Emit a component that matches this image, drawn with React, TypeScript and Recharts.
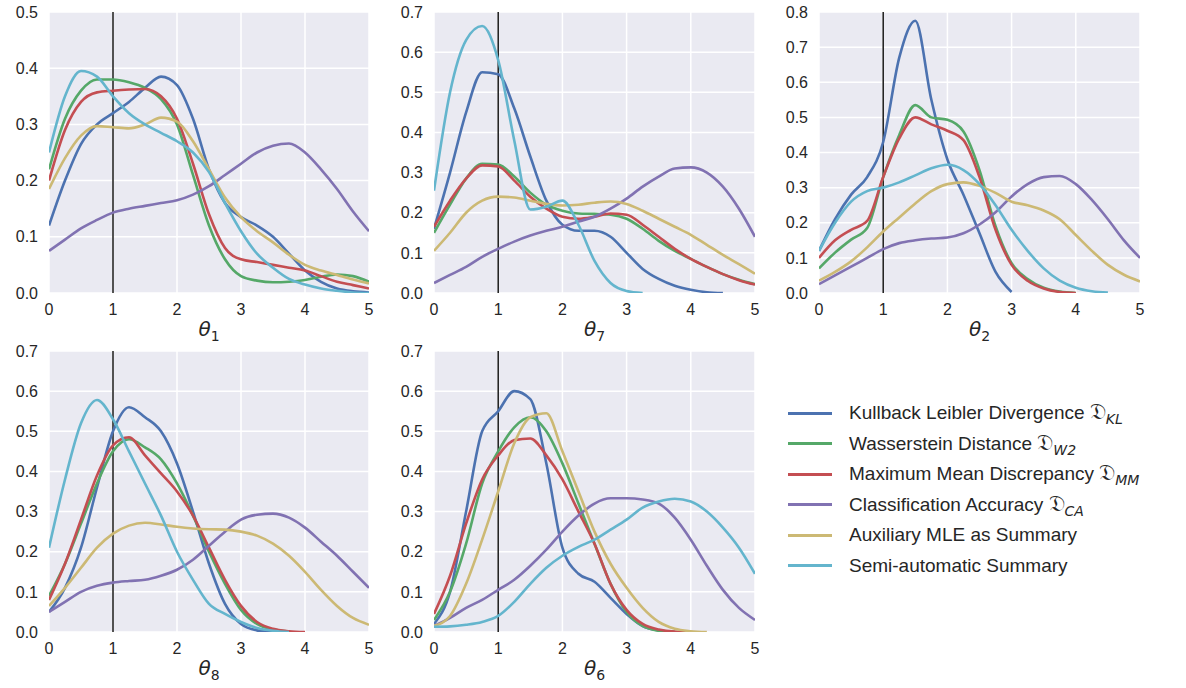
import React from 'react';
import { CartesianGrid, Line, LineChart, ReferenceLine, XAxis, YAxis } from 'recharts';

// shared grid of theta values (x axis)
const xGrid = [0, 0.25, 0.5, 0.75, 1, 1.25, 1.5, 1.75, 2, 2.25, 2.5, 2.75, 3, 3.25, 3.5, 3.75, 4, 4.25, 4.5, 4.75, 5];
const xTicks = [0, 1, 2, 3, 4, 5];

const methodNames = [
  'Kullback Leibler Divergence',
  'Wasserstein Distance',
  'Maximum Mean Discrepancy',
  'Classification Accuracy',
  'Auxiliary MLE as Summary',
  'Semi-automatic Summary',
];
const methodSubs = ['KL', 'W2', 'MM', 'CA', '', ''];
const methodColors = ['#4C72B0', '#55A868', '#C44E52', '#8172B2', '#CCB974', '#64B5CD'];

// theta_1
const t1KL = [0.12, 0.2, 0.265, 0.3, 0.32, 0.34, 0.365, 0.385, 0.37, 0.31, 0.22, 0.16, 0.135, 0.12, 0.1, 0.07, 0.04, 0.02, 0.008, 0.003, 0.001];
const t1W2 = [0.22, 0.31, 0.36, 0.38, 0.38, 0.375, 0.365, 0.345, 0.3, 0.21, 0.12, 0.06, 0.03, 0.022, 0.019, 0.02, 0.023, 0.029, 0.033, 0.03, 0.02];
const t1MM = [0.2, 0.29, 0.34, 0.357, 0.36, 0.362, 0.363, 0.35, 0.31, 0.23, 0.14, 0.08, 0.06, 0.055, 0.05, 0.045, 0.04, 0.03, 0.02, 0.014, 0.008];
const t1CA = [0.075, 0.095, 0.115, 0.13, 0.143, 0.15, 0.155, 0.16, 0.165, 0.175, 0.19, 0.21, 0.23, 0.25, 0.262, 0.266, 0.25, 0.22, 0.185, 0.145, 0.11];
const t1MLE = [0.185, 0.24, 0.28, 0.297, 0.295, 0.293, 0.3, 0.312, 0.305, 0.27, 0.22, 0.17, 0.135, 0.11, 0.09, 0.068, 0.05, 0.04, 0.032, 0.024, 0.017];
const t1Semi = [0.25, 0.35, 0.395, 0.385, 0.35, 0.32, 0.3, 0.285, 0.27, 0.25, 0.215, 0.16, 0.11, 0.07, 0.045, 0.025, 0.015, 0.008, 0.004, 0.001, 0.0];

// theta_7
const t7KL = [0.16, 0.3, 0.45, 0.55, 0.545, 0.46, 0.34, 0.23, 0.17, 0.155, 0.155, 0.14, 0.1, 0.06, 0.035, 0.018, 0.008, 0.002, 0.0, null, null];
const t7W2 = [0.15, 0.22, 0.285, 0.322, 0.32, 0.29, 0.25, 0.22, 0.205, 0.198, 0.197, 0.195, 0.185, 0.16, 0.13, 0.105, 0.085, 0.065, 0.047, 0.033, 0.022];
const t7MM = [0.165, 0.23, 0.285, 0.318, 0.315, 0.28, 0.24, 0.21, 0.19, 0.185, 0.19, 0.198, 0.195, 0.17, 0.14, 0.11, 0.085, 0.065, 0.047, 0.032, 0.021];
const t7CA = [0.025, 0.045, 0.065, 0.09, 0.11, 0.128, 0.143, 0.155, 0.165, 0.178, 0.19, 0.21, 0.235, 0.265, 0.29, 0.31, 0.313, 0.3, 0.265, 0.21, 0.14];
const t7MLE = [0.105, 0.15, 0.2, 0.23, 0.24, 0.238, 0.23, 0.222, 0.218, 0.22, 0.225, 0.228, 0.222, 0.205, 0.185, 0.165, 0.145, 0.12, 0.095, 0.072, 0.048];
const t7Semi = [0.255, 0.5, 0.63, 0.665, 0.58, 0.38, 0.208, 0.215, 0.23, 0.17, 0.08, 0.025, 0.005, 0.0, null, null, null, null, null, null, null];

// theta_2
const t2KL = [0.12, 0.21, 0.28, 0.33, 0.43, 0.67, 0.775, 0.55, 0.38, 0.28, 0.17, 0.06, 0.003, null, null, null, null, null, null, null, null];
const t2W2 = [0.07, 0.115, 0.152, 0.185, 0.33, 0.45, 0.535, 0.5, 0.493, 0.46, 0.35, 0.19, 0.085, 0.04, 0.015, 0.004, 0.0, null, null, null, null];
const t2MM = [0.1, 0.15, 0.18, 0.205, 0.33, 0.44, 0.5, 0.48, 0.462, 0.435, 0.33, 0.18, 0.08, 0.035, 0.013, 0.003, 0.0, null, null, null, null];
const t2CA = [0.025, 0.05, 0.075, 0.1, 0.125, 0.142, 0.15, 0.155, 0.158, 0.17, 0.195, 0.23, 0.275, 0.31, 0.33, 0.333, 0.31, 0.265, 0.21, 0.15, 0.1];
const t2MLE = [0.035, 0.06, 0.09, 0.13, 0.175, 0.215, 0.255, 0.29, 0.31, 0.315, 0.305, 0.285, 0.26, 0.25, 0.235, 0.21, 0.165, 0.12, 0.08, 0.052, 0.033];
const t2Semi = [0.12, 0.2, 0.26, 0.29, 0.3, 0.315, 0.335, 0.355, 0.365, 0.35, 0.31, 0.25, 0.18, 0.12, 0.07, 0.035, 0.015, 0.005, 0.001, null, null];

// theta_8
const t8KL = [0.05, 0.11, 0.21, 0.36, 0.5, 0.56, 0.535, 0.5, 0.42, 0.3, 0.17, 0.07, 0.02, 0.004, 0.0, null, null, null, null, null, null];
const t8W2 = [0.09, 0.17, 0.27, 0.37, 0.45, 0.48, 0.46, 0.43, 0.37, 0.29, 0.2, 0.12, 0.055, 0.02, 0.006, 0.001, null, null, null, null, null];
const t8MM = [0.08, 0.17, 0.28, 0.39, 0.465, 0.485, 0.44, 0.395, 0.35, 0.29, 0.21, 0.13, 0.065, 0.025, 0.008, 0.002, 0.0, null, null, null, null];
const t8CA = [0.05, 0.075, 0.1, 0.115, 0.123, 0.127, 0.13, 0.14, 0.155, 0.18, 0.215, 0.25, 0.28, 0.292, 0.295, 0.285, 0.26, 0.225, 0.19, 0.15, 0.11];
const t8MLE = [0.065, 0.11, 0.16, 0.21, 0.245, 0.265, 0.272, 0.268, 0.262, 0.258, 0.256, 0.255, 0.25, 0.24, 0.22, 0.19, 0.15, 0.105, 0.065, 0.035, 0.018];
const t8Semi = [0.21, 0.38, 0.52, 0.578, 0.53, 0.45, 0.37, 0.29, 0.2, 0.13, 0.07, 0.045, 0.025, 0.01, 0.003, 0.0, null, null, null, null, null];

// theta_6
const t6KL = [0.02, 0.1, 0.3, 0.5, 0.55, 0.6, 0.58, 0.42, 0.21, 0.145, 0.125, 0.085, 0.045, 0.015, 0.004, 0.0, null, null, null, null, null];
const t6W2 = [0.03, 0.1, 0.22, 0.37, 0.45, 0.51, 0.535, 0.5, 0.42, 0.32, 0.22, 0.12, 0.05, 0.015, 0.003, 0.0, null, null, null, null, null];
const t6MM = [0.045, 0.14, 0.27, 0.38, 0.44, 0.478, 0.482, 0.44, 0.38, 0.3, 0.22, 0.12, 0.055, 0.02, 0.006, 0.001, 0.0, null, null, null, null];
const t6CA = [0.015, 0.035, 0.06, 0.08, 0.105, 0.13, 0.165, 0.205, 0.25, 0.29, 0.32, 0.333, 0.333, 0.33, 0.32, 0.285, 0.23, 0.165, 0.105, 0.06, 0.03];
const t6MLE = [0.015, 0.04, 0.12, 0.23, 0.35, 0.47, 0.535, 0.545, 0.45, 0.35, 0.25, 0.17, 0.11, 0.06, 0.025, 0.008, 0.002, 0.0, null, null, null];
const t6Semi = [0.013, 0.014, 0.018, 0.025, 0.04, 0.075, 0.12, 0.16, 0.19, 0.212, 0.23, 0.255, 0.28, 0.31, 0.325, 0.332, 0.325, 0.3, 0.26, 0.21, 0.145];

const yTicks5 = [0, 0.1, 0.2, 0.3, 0.4, 0.5];
const yTicks7 = [0, 0.1, 0.2, 0.3, 0.4, 0.5, 0.6, 0.7];
const yTicks8 = [0, 0.1, 0.2, 0.3, 0.4, 0.5, 0.6, 0.7, 0.8];

const panels = [
  { sub: '1', left: 49, top: 12, width: 320, yTicks: yTicks5, series: [t1KL, t1W2, t1MM, t1CA, t1MLE, t1Semi] },
  { sub: '7', left: 434, top: 12, width: 321, yTicks: yTicks7, series: [t7KL, t7W2, t7MM, t7CA, t7MLE, t7Semi] },
  { sub: '2', left: 819, top: 12, width: 321, yTicks: yTicks8, series: [t2KL, t2W2, t2MM, t2CA, t2MLE, t2Semi] },
  { sub: '8', left: 49, top: 351, width: 320, yTicks: yTicks7, series: [t8KL, t8W2, t8MM, t8CA, t8MLE, t8Semi] },
  { sub: '6', left: 434, top: 351, width: 321, yTicks: yTicks7, series: [t6KL, t6W2, t6MM, t6CA, t6MLE, t6Semi] },
];

const PLOT_H = 281;
const AXIS_W = 50;
const TOP_PAD = 10;
const TEXT = '#262626';

interface PanelProps {
  sub: string;
  left: number;
  top: number;
  width: number;
  yTicks: number[];
  series: (number | null)[][];
}

function Panel({ sub, left, top, width, yTicks, series }: PanelProps) {
  const data = xGrid.map((x, i) => {
    const row: Record<string, number | null> = { x };
    series.forEach((s, k) => {
      row['s' + k] = s[i];
    });
    return row;
  });
  const yMax = yTicks[yTicks.length - 1];

  return (
    <>
      <div style={{ position: 'absolute', left: left - AXIS_W, top: top - TOP_PAD }}>
        <LineChart
          width={width + AXIS_W + 12}
          height={PLOT_H + TOP_PAD + 30}
          data={data}
          margin={{ top: TOP_PAD, right: 12, bottom: 0, left: 0 }}
        >
          <CartesianGrid fill="#EAEAF2" stroke="#ffffff" strokeWidth={1.5} />
          <XAxis
            dataKey="x"
            type="number"
            domain={[0, 5]}
            ticks={xTicks}
            axisLine={false}
            tickLine={false}
            tickMargin={5}
            height={30}
            tick={{ fill: TEXT, fontSize: 16 }}
            allowDataOverflow
          />
          <YAxis
            type="number"
            domain={[0, yMax]}
            ticks={yTicks}
            axisLine={false}
            tickLine={false}
            tickMargin={5}
            width={AXIS_W}
            tick={{ fill: TEXT, fontSize: 16 }}
            tickFormatter={(v: number) => v.toFixed(1)}
            allowDataOverflow
          />
          <ReferenceLine x={1} stroke="#1a1a1a" strokeWidth={1.5} />
          {series.map((_, k) => (
            <Line
              key={k}
              dataKey={'s' + k}
              type="monotone"
              stroke={methodColors[k]}
              strokeWidth={2.6}
              dot={false}
              activeDot={false}
              isAnimationActive={false}
            />
          ))}
        </LineChart>
      </div>
      <div
        style={{
          position: 'absolute',
          left,
          width,
          top: top + PLOT_H + 24,
          textAlign: 'center',
          fontFamily: '"DejaVu Sans", sans-serif',
          fontSize: 20,
          color: TEXT,
        }}
      >
        <i>θ</i>
        <sub style={{ fontSize: 14 }}>{sub}</sub>
      </div>
    </>
  );
}

function LegendBox() {
  return (
    <div style={{ position: 'absolute', left: 788, top: 398 }}>
      {methodNames.map((name, i) => (
        <div key={name} style={{ display: 'flex', alignItems: 'center', height: 30.5 }}>
          <div style={{ width: 44, height: 2.6, background: methodColors[i], marginRight: 17 }} />
          <span style={{ fontSize: 19, color: TEXT, whiteSpace: 'nowrap' }}>
            {name}
            {methodSubs[i] && (
              <>
                {' '}
                <span style={{ fontSize: 22, fontFamily: '"DejaVu Sans", "DejaVu Serif", serif' }}>𝔇</span>
                <sub style={{ fontSize: 14, fontStyle: 'italic', fontFamily: '"DejaVu Sans", sans-serif' }}>
                  {methodSubs[i]}
                </sub>
              </>
            )}
          </span>
        </div>
      ))}
    </div>
  );
}

export default function App() {
  return (
    <div
      style={{
        position: 'absolute',
        left: 0,
        top: 0,
        width: 1186,
        height: 688,
        background: '#ffffff',
        fontFamily: '"Liberation Sans", Arial, sans-serif',
      }}
    >
      {panels.map((p) => (
        <Panel key={p.sub} {...p} />
      ))}
      <LegendBox />
    </div>
  );
}
